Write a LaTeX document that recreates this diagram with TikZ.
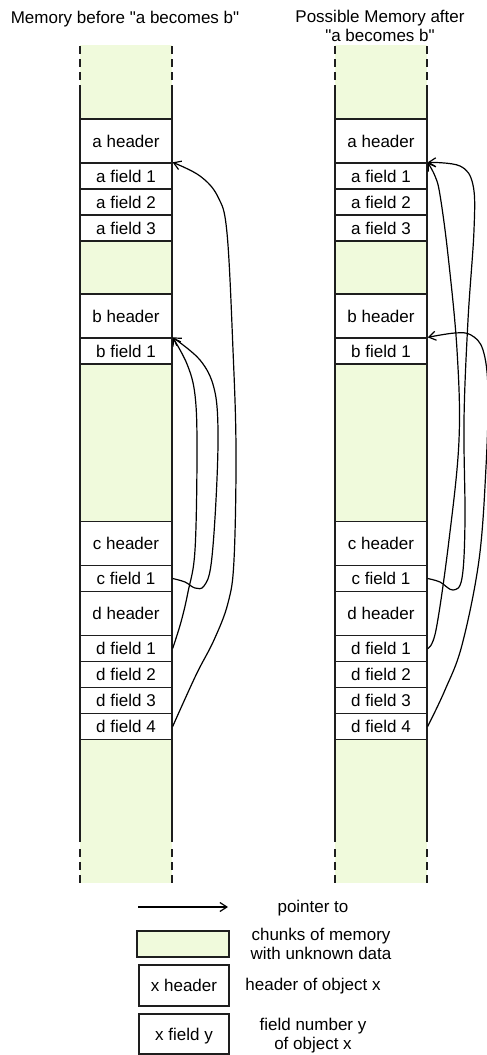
\documentclass[tikz,border=0pt]{standalone}
\usepackage{fontspec}
\setmainfont{Liberation Sans}[Ligatures=TeXOff]
\usetikzlibrary{arrows.meta}
\definecolor{chunk}{RGB}{240,250,220}
\definecolor{edge}{RGB}{30,30,30}
\newcommand\memcol[2]{%
  \fill[chunk] (#2,45) rectangle (#2+92,883);
  \draw[sidedash] (#2,46) -- (#2,86);
  \draw[side] (#2,86) -- (#2,842);
  \draw[sidedash] (#2,849) -- (#2,883);
  \draw[sidedash] (#2+92,46) -- (#2+92,86);
  \draw[side] (#2+92,86) -- (#2+92,842);
  \draw[sidedash] (#2+92,849) -- (#2+92,883);
  \node[hdr] (#1ah) at (#2+46,141)   {a header};
  \node[fld] (#1a1) at (#2+46,176)   {a field 1};
  \node[fld] (#1a2) at (#2+46,202)   {a field 2};
  \node[fld] (#1a3) at (#2+46,228)   {a field 3};
  \node[hdr] (#1bh) at (#2+46,316)   {b header};
  \node[fld] (#1b1) at (#2+46,351)   {b field 1};
  \node[hdr] (#1ch) at (#2+46,543.5) {c header};
  \node[fld] (#1c1) at (#2+46,578.5) {c field 1};
  \node[hdr] (#1dh) at (#2+46,613.5) {d header};
  \node[fld] (#1d1) at (#2+46,648.5) {d field 1};
  \node[fld] (#1d2) at (#2+46,674.5) {d field 2};
  \node[fld] (#1d3) at (#2+46,700.5) {d field 3};
  \node[fld] (#1d4) at (#2+46,726.5) {d field 4};
}
\begin{document}
\begin{tikzpicture}[x=1pt,y=-1pt,
  every node/.style={font=\fontsize{17}{19}\selectfont},
  cell/.style={draw=edge, line width=1.3pt, fill=white, minimum width=92pt,
    inner sep=0pt, text height=12pt, text depth=0pt},
  hdr/.style={cell, minimum height=44pt},
  fld/.style={cell, minimum height=26pt},
  ptr/.style={draw=black, line width=1.2pt, -{Straight Barb[length=7pt,width=9pt]}},
  side/.style={draw=edge, line width=1.3pt},
  sidedash/.style={side, dash pattern=on 8pt off 5pt},
  lbl/.style={text height=12pt, text depth=0pt, inner sep=0pt},
  mlbl/.style={align=center, inner sep=0pt},
]
\useasboundingbox (0,0) rectangle (487,1055);

% titles
\node[anchor=base] (t1) at (125,23) {Memory before "a becomes b"};
\node[mlbl, anchor=base] (t2) at (380,41.5) {Possible Memory after\\"a becomes b"};

% columns
\memcol{L}{80}
\memcol{R}{335}

% pointers, before
\draw[ptr] plot[smooth, tension=0.6] coordinates {(Ld4.east) (196,675) (214,640) (228,603) (234,560) (236,450) (233,350) (227,233) (218,197) (200,176) (La1.north east)};
\draw[ptr] plot[smooth, tension=0.6] coordinates {(Ld1.east) (181,622) (188,592) (195,550) (197,450) (195,395) (187,364) (Lb1.north east)};
\draw[ptr] plot[smooth, tension=0.6] coordinates {(Lc1.east) (185,582) (195,588) (204,586) (211,565) (216,500) (218,430) (214,388) (200,360) (Lb1.north east)};

% pointers, after
\draw[ptr] plot[smooth, tension=0.6] coordinates {(Rc1.east) (440,582) (453,590) (462,578) (465,520) (464,420) (468,320) (474,230) (473,185) (460,166) (Ra1.north east)};
\draw[ptr] plot[smooth, tension=0.6] coordinates {(Rd1.east) (436,630) (449,540) (459,440) (457,350) (448,255) (440,195) (435,176) (Ra1.north east)};
\draw[ptr] plot[smooth, tension=0.6] coordinates {(Rd4.east) (445,690) (462,645) (479,560) (486,467) (488,390) (483,350) (471,335) (455,333) (Rb1.north east)};

% legend
\coordinate (lgA) at (138,907);
\coordinate (lgB) at (228,907);
\draw[ptr] (lgA) -- (lgB);
\node[lbl] (lgAt) at (313,906) {pointer to};
\node[fld, fill=chunk] (lgC) at (183,944) {};
\node[mlbl] (lgCt) at (321,944) {chunks of memory\\with unknown data};
\node[cell, minimum width=90pt, minimum height=41pt] (lgH) at (184,985.5) {x header};
\node[lbl] (lgHt) at (313,984) {header of object x};
\node[cell, minimum width=90pt, minimum height=40pt] (lgF) at (184,1034) {x field y};
\node[mlbl] (lgFt) at (313,1036) {field number y\\of object x};
\end{tikzpicture}
\end{document}
